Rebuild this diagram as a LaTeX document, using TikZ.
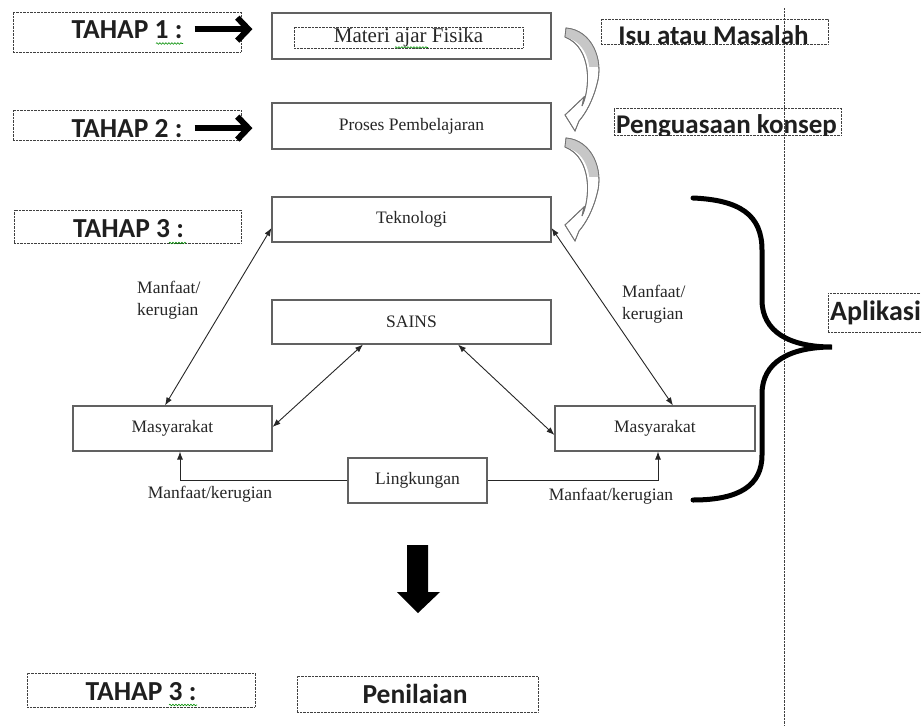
\documentclass[tikz,border=0pt]{standalone}
\usepackage{fontspec}
\setmainfont{Liberation Serif}
\newfontfamily\calib{Carlito}
\usetikzlibrary{arrows.meta,decorations.pathmorphing,calc}
\begin{document}
\begin{tikzpicture}[x=1pt,y=-1pt,
  box/.style={draw=black!62,line width=1.1pt,inner sep=0pt,font=\fontsize{17.5}{21}\selectfont,text=black!85},
  dotbox/.style={draw=black!75,line width=0.7pt,dash pattern=on 0.7pt off 0.7pt,inner sep=0pt},
  lbl/.style={font=\calib\bfseries\fontsize{27.5}{31}\selectfont,text=black!88,inner sep=0pt},
  serif/.style={font=\fontsize{17.5}{21}\selectfont,text=black!85,inner sep=0pt},
  link/.style={draw=black!85,line width=0.9pt,{Latex[length=8pt,width=6pt]}-{Latex[length=8pt,width=6pt]}},
  onearrow/.style={draw=black!85,line width=0.9pt,-{Latex[length=8pt,width=6pt]}},
  fat/.style={draw=black,line width=6pt,-{Straight Barb[length=11pt,width=23pt]}},
  squig/.style={draw=green!55!black,line width=0.6pt,decorate,decoration={snake,amplitude=0.8pt,segment length=3pt}},
  ribbon/.style={draw=black!55,line width=0.8pt,fill=white},
  brace/.style={draw=black,line width=5pt,line cap=round}
]
\useasboundingbox (0,0) rectangle (921,726);

% vertical dotted line
\draw[black!75,line width=0.7pt,dash pattern=on 0.7pt off 0.7pt] (784,8) -- (784,726);

% ---- left labels ----
\node[dotbox,minimum width=228pt,minimum height=40pt] (b1) at (127,32) {};
\node[lbl,anchor=base] (t1) at (127,38) {TAHAP 1 :};
\node[dotbox,minimum width=228pt,minimum height=30pt] (b2) at (127,125) {};
\node[lbl,anchor=base] (t2) at (127,137) {TAHAP 2 :};
\node[dotbox,minimum width=227pt,minimum height=33pt] (b3) at (127.5,226.5) {};
\node[lbl,anchor=base] (t3) at (128.5,237) {TAHAP 3 :};
\node[dotbox,minimum width=228pt,minimum height=34pt] (b4) at (141,690) {};
\node[lbl,anchor=base] (t4) at (141,700) {TAHAP 3 :};
\node[dotbox,minimum width=241pt,minimum height=36pt] (b5) at (417.5,694) {};
\node[lbl,anchor=base] (t5) at (415,703) {Penilaian};

% spell-check squiggles
\draw[squig] (156,43.5) -- (183,43.5);
\draw[squig] (169,243) -- (186,243);
\draw[squig] (169,705) -- (197,705);
\draw[squig] (395,47.5) -- (428,47.5);

% ---- right labels ----
\node[dotbox,minimum width=227pt,minimum height=25pt] (b6) at (714.5,31.5) {};
\node[lbl,font=\calib\bfseries\fontsize{27}{31}\selectfont,anchor=base] (t6) at (713.5,44) {Isu atau Masalah};
\node[dotbox,minimum width=227pt,minimum height=27pt] (b7) at (727.5,121.5) {};
\begin{scope}
  \clip (600,100) rectangle (850,135);
  \node[lbl,font=\calib\bfseries\fontsize{27}{31}\selectfont,anchor=base] (t7) at (726.5,133) {Penguasaan konsep};
\end{scope}
\node[dotbox,minimum width=100pt,minimum height=39pt] (b8) at (878,312.5) {};
\node[lbl,font=\calib\bfseries\fontsize{28}{32}\selectfont,anchor=base west] (t8) at (830,320) {Aplikasi};

% ---- main boxes ----
\node[box,minimum width=279pt,minimum height=46pt] (mat) at (411.5,36) {};
\node[dotbox,minimum width=229pt,minimum height=21pt,font=\fontsize{21}{25}\selectfont,text=black!85] (matt) at (408.5,37.5) {Materi ajar Fisika};
\node[box,minimum width=279pt,minimum height=46pt] (pro) at (411.5,126) {Proses Pembelajaran};
\node[box,minimum width=279pt,minimum height=45pt] (tek) at (411.5,219.5) {Teknologi};
\node[box,minimum width=279pt,minimum height=44pt] (sai) at (411.5,322) {SAINS};
\node[box,minimum width=199pt,minimum height=45pt] (mL) at (172.5,428.5) {Masyarakat};
\node[box,minimum width=200pt,minimum height=45pt] (mR) at (655,428.5) {Masyarakat};
\node[box,minimum width=139pt,minimum height=45pt] (lin) at (417.5,480.5) {Lingkungan};

% ---- thick arrows ----
\draw[fat,shorten <=12pt,shorten >=19pt] (t1.east) -- (t1.east -| mat.west);
\draw[fat,shorten <=12pt,shorten >=19pt] (t2.east) -- (t2.east -| pro.west);

% ---- connectors ----
\draw[link] ([yshift=-8.5pt]tek.west) -- ([xshift=-7.5pt]mL.north);
\draw[link] ([yshift=-8.5pt]tek.east) -- ([xshift=18pt]mR.north);
\draw[link] ([xshift=-48.5pt]sai.south) -- ([yshift=1.5pt]mL.east);
\draw[link] ([xshift=46.5pt]sai.south) -- ([yshift=-6.5pt]mR.west);
\draw[onearrow] (lin.west) -| ([xshift=7.5pt]mL.south);
\draw[onearrow] (lin.east) -| ([xshift=3pt]mR.south);

% ---- connector labels ----
\node[serif,anchor=base west] (l1a) at (137,293) {Manfaat/};
\node[serif,anchor=base west] (l1b) at (137,315) {kerugian};
\node[serif,anchor=base west] (l2a) at (622,297) {Manfaat/};
\node[serif,anchor=base west] (l2b) at (622,319) {kerugian};
\node[serif,anchor=base] (l3) at (210,498) {Manfaat/kerugian};
\node[serif,anchor=base] (l4) at (611,500) {Manfaat/kerugian};

% ---- curved ribbon arrows ----
\foreach \dy in {0,110}{
\begin{scope}[shift={(0,\dy)}]
  \path[ribbon] (566,28) .. controls (592,30) and (604,60) .. (597,84)
     .. controls (593,100) and (586,113) .. (579,121)
     -- (575,131) -- (565,115) -- (584,97) -- (582,106)
     .. controls (590,90) and (593,48) .. (565,37) -- cycle;
  \begin{scope}
    \clip (555,20) rectangle (610,66);
    \fill[black!22] (566,28) .. controls (592,30) and (604,60) .. (597,84)
     -- (590,84) .. controls (591,60) and (585,42) .. (565,37) -- cycle;
  \end{scope}
  \draw[draw=black!55,line width=0.8pt] (566,28) .. controls (592,30) and (604,60) .. (597,84)
     .. controls (593,100) and (586,113) .. (579,121)
     -- (575,131) -- (565,115) -- (584,97) -- (582,106)
     .. controls (590,90) and (593,48) .. (565,37) -- cycle;
\end{scope}}

% ---- big brace ----
\draw[brace] (693,198) .. controls (740,200) and (762,215) .. (762,250) -- (762,300)
  .. controls (762,332) and (790,347) .. (832,347)
  .. controls (790,347) and (762,362) .. (762,394) -- (762,455)
  .. controls (762,485) and (740,500) .. (693,500);

% ---- big down arrow ----
\fill[black] (407,545) -- (428,545) -- (428,592) -- (440,592) -- (418,613) -- (397,592) -- (407,592) -- cycle;
\end{tikzpicture}
\end{document}
